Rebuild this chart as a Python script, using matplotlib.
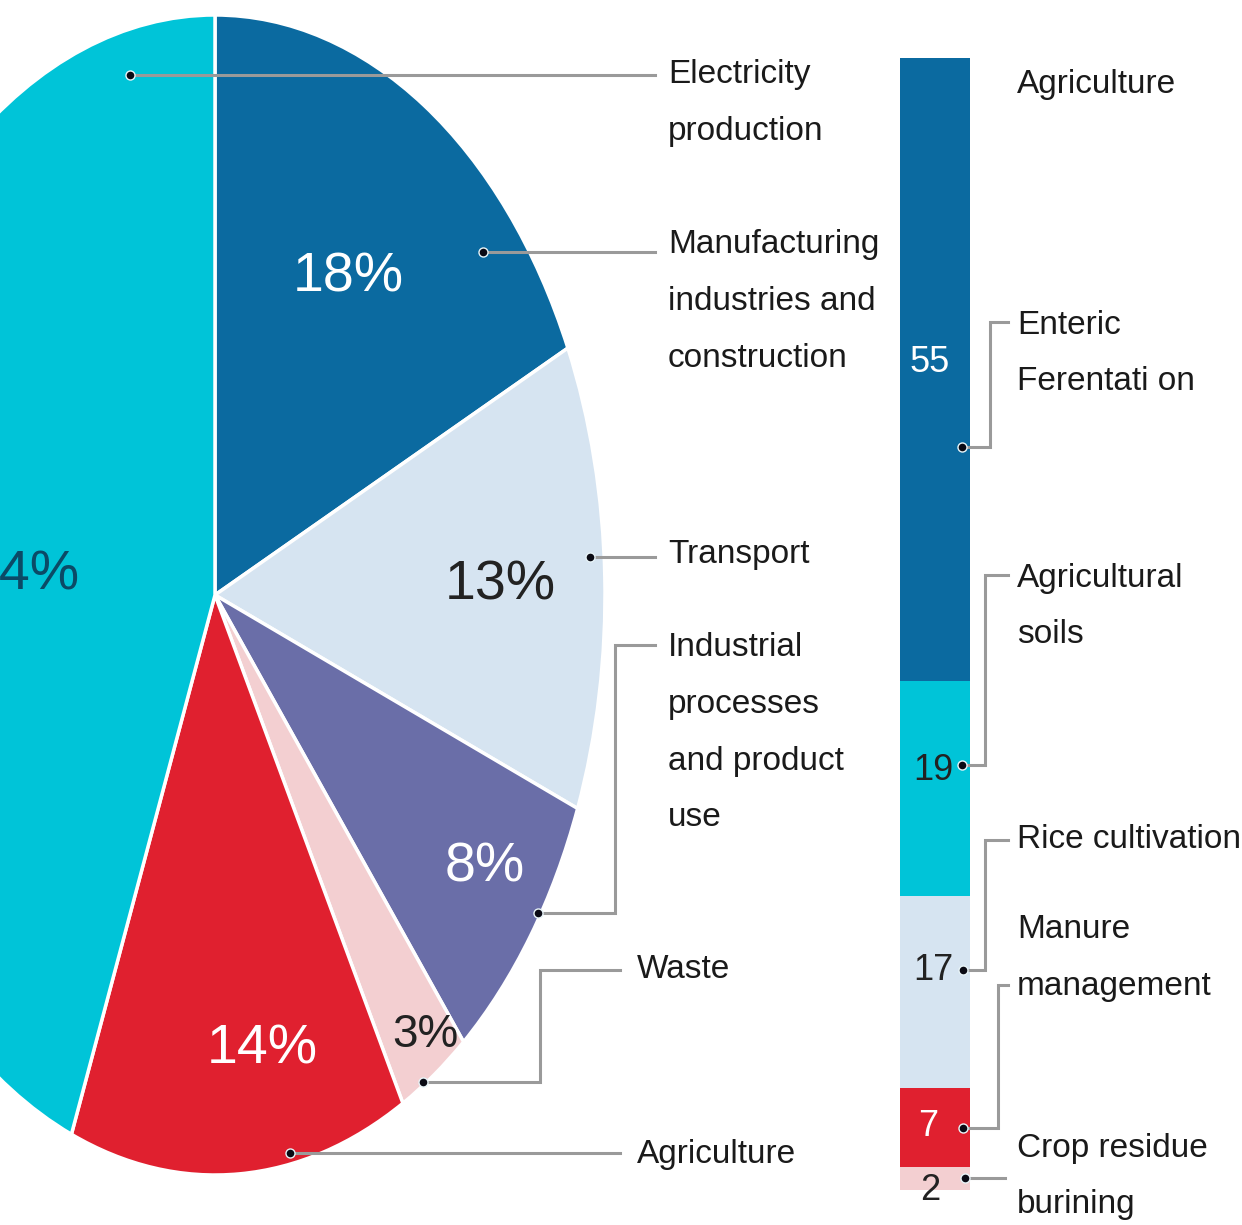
import matplotlib.pyplot as plt
from matplotlib import font_manager as fm

# pie: greenhouse gas share by sector (clockwise from 12 o'clock)
sectors = ['Manufacturing\nindustries and\nconstruction', 'Transport',
           'Industrial\nprocesses\nand product\nuse', 'Waste', 'Agriculture',
           'Electricity\nproduction']
shares = [18, 13, 8, 3, 14, 44]
pie_colors = ['#0b6aa0', '#d6e4f1', '#6a6ea8', '#f3cfd1', '#e0202f', '#00c4d8']

# stacked bar: agriculture breakdown
agri_parts = ['Enteric\nFerentati on', 'Agricultural\nsoils', 'Rice cultivation',
              'Manure\nmanagement', 'Crop residue\nburining']
agri_vals = [55, 19, 17, 7, 2]
bar_colors = ['#0b6aa0', '#00c4d8', '#d6e4f1', '#e0202f', '#f3cfd1']

W, H = 1242, 1225

# the original uses a tall narrow face; take a narrow one if there is one
names = {f.name for f in fm.fontManager.ttflist}
if 'Liberation Sans Narrow' in names:
    face, s = 'Liberation Sans Narrow', 1.2
else:
    face, s = 'Liberation Sans', 1.0
plt.rcParams['font.family'] = [face, 'DejaVu Sans']

fig = plt.figure(figsize=(W / 100, H / 100), dpi=100)


def fpos(x0, y0, x1, y1):
    # pixel box (top-left origin) -> figure fraction
    return [x0 / W, 1 - y1 / H, (x1 - x0) / W, (y1 - y0) / H]


# the pie is an ellipse in the original, so no equal aspect
cx, cy, rx, ry = 215, 595, 390, 580
pax = fig.add_axes(fpos(cx - rx, cy - ry, cx + rx, cy + ry))
pax.pie(shares, colors=pie_colors, startangle=90, counterclock=False, radius=1,
        frame=True, wedgeprops=dict(edgecolor='white', linewidth=2.5))
pax.set_xlim(-1, 1)
pax.set_ylim(-1, 1)
pax.set_aspect('auto')
pax.axis('off')

# bar
bax = fig.add_axes(fpos(900, 58, 970, 1190))
bottom = 0
for v, c in zip(agri_vals, bar_colors):
    bax.bar(0, v, bottom=bottom, width=1, color=c, edgecolor='none')
    bottom += v
bax.set_xlim(-0.5, 0.5)
bax.set_ylim(100, 0)
bax.axis('off')

# overlay in pixel coords for labels / leaders
ov = fig.add_axes([0, 0, 1, 1])
ov.set_xlim(0, W)
ov.set_ylim(H, 0)
ov.axis('off')

gray = '#9a9a9a'
txt = '#1a1a1a'
lab_fs = 24 * s
lab_ls = 64 / (0.93 * lab_fs * 100 / 72)


def leader(pts, dot):
    xs, ys = zip(*pts)
    ov.plot(xs, ys, color=gray, lw=2.2, solid_joinstyle='miter')
    ov.plot(*dot, 'o', ms=6.5, color='#0a0a14', mec='#e8f4f8', mew=1)


def label(x, y, name):
    # y is the centre of the first line
    ov.text(x, y - 0.5 * 0.93 * lab_fs * 100 / 72, name, color=txt,
            fontsize=lab_fs, ha='left', va='top', linespacing=lab_ls)


# pie percentage labels
pct_pos = [(348, 278, 'white'), (500, 585, '#222222'), (485, 868, 'white'),
           (425, 1035, '#222222'), (262, 1050, 'white'), (24, 575, '#0b4a66')]
for v, (x, y, c) in zip(shares, pct_pos):
    fs = (33 if v == 3 else 40) * s
    ov.text(x, y, f'{v}%', color=c, fontsize=fs, ha='center', va='center')

# pie leaders and labels
leader([(130, 75), (655, 75)], (130, 75))
leader([(483, 252), (655, 252)], (483, 252))
leader([(590, 557), (655, 557)], (590, 557))
leader([(538, 913), (615, 913), (615, 645), (655, 645)], (538, 913))
leader([(423, 1082), (540, 1082), (540, 970), (620, 970)], (423, 1082))
leader([(290, 1153), (620, 1153)], (290, 1153))

lab_pos = [(668, 245), (668, 555), (668, 648), (637, 970), (637, 1155), (668, 75)]
for name, (x, y) in zip(sectors, lab_pos):
    label(x, y, name)

# bar value labels
val_pos = [(930, 362, 'white'), (933, 770, '#222222'), (933, 970, '#222222'),
           (928, 1127, 'white'), (930, 1190, '#222222')]
for v, (x, y, c) in zip(agri_vals, val_pos):
    ov.text(x, y, str(v), color=c, fontsize=26 * s, ha='center', va='center')

# bar leaders and labels
leader([(962, 447), (990, 447), (990, 322), (1008, 322)], (962, 447))
leader([(962, 765), (985, 765), (985, 575), (1008, 575)], (962, 765))
leader([(963, 970), (985, 970), (985, 840), (1008, 840)], (963, 970))
leader([(963, 1128), (998, 1128), (998, 985), (1008, 985)], (963, 1128))
leader([(965, 1178), (1005, 1178)], (965, 1178))

label(1017, 85, 'Agriculture')
part_pos = [(1017, 325), (1017, 578), (1017, 840), (1017, 930), (1017, 1148)]
for name, (x, y) in zip(agri_parts, part_pos):
    label(x, y, name)

fig.savefig('out.png', dpi=100)
